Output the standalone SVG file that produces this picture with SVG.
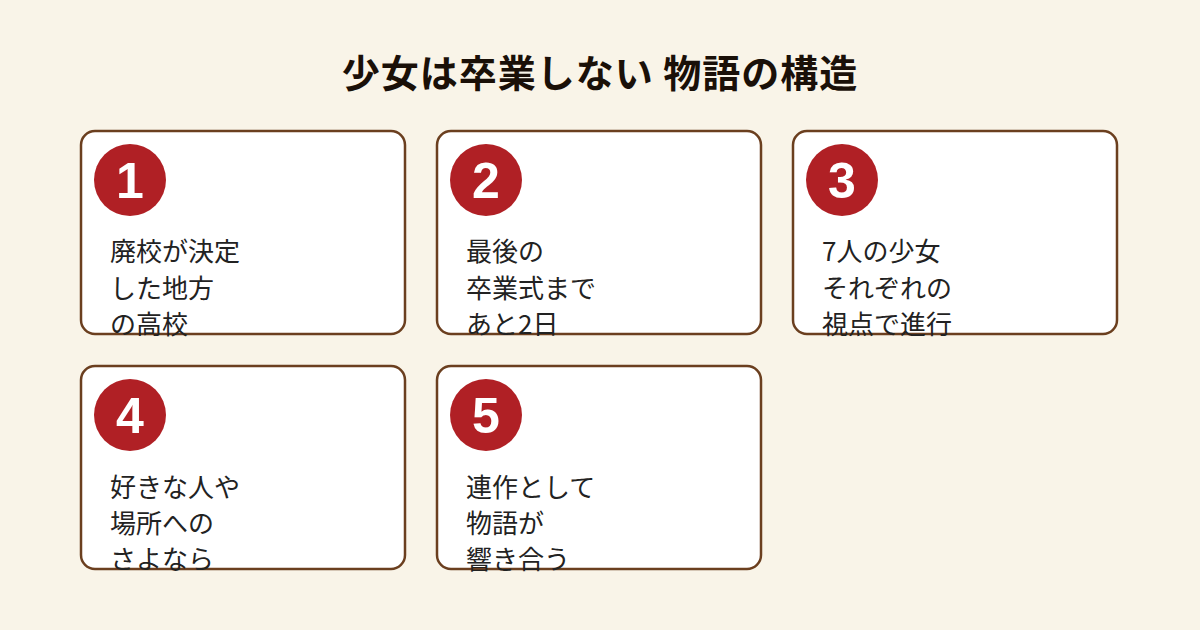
<svg xmlns="http://www.w3.org/2000/svg" width="1200" height="630" viewBox="0 0 1200 630">
<style>
.card{fill:#fff;stroke:#6b3f1f;stroke-width:2.5}
.badge{fill:#b02025}
.num{fill:#fff;font-family:"Liberation Sans",sans-serif;font-weight:bold;font-size:50px;text-anchor:middle}
.t{fill:#222;font-family:"Noto Sans CJK JP","Noto Sans",sans-serif;font-size:26px}
.title{fill:#1a1008;font-family:"Noto Sans CJK JP",sans-serif;font-weight:bold;font-size:38px;letter-spacing:1px;text-anchor:middle}
</style>
<rect width="1200" height="630" fill="#f9f4e8"/>
<text class="title" x="600" y="87">少女は卒業しない 物語の構造</text>
<g id="n1"><rect class="card" x="81" y="131" width="324" height="203" rx="14"/><circle class="badge" cx="130" cy="180" r="36"/><text class="num" x="130" y="198">1</text><text class="t"><tspan x="110" y="261">廃校が決定</tspan><tspan x="110" y="298">した地方</tspan><tspan x="110" y="334">の高校</tspan></text></g>
<g id="n2"><rect class="card" x="437" y="131" width="324" height="203" rx="14"/><circle class="badge" cx="486" cy="180" r="36"/><text class="num" x="486" y="198">2</text><text class="t"><tspan x="466" y="261">最後の</tspan><tspan x="466" y="298">卒業式まで</tspan><tspan x="466" y="334">あと2日</tspan></text></g>
<g id="n3"><rect class="card" x="793" y="131" width="324" height="203" rx="14"/><circle class="badge" cx="842" cy="180" r="36"/><text class="num" x="842" y="198">3</text><text class="t"><tspan x="822" y="261">7人の少女</tspan><tspan x="822" y="298">それぞれの</tspan><tspan x="822" y="334">視点で進行</tspan></text></g>
<g id="n4"><rect class="card" x="81" y="366" width="324" height="203" rx="14"/><circle class="badge" cx="130" cy="415" r="36"/><text class="num" x="130" y="433">4</text><text class="t"><tspan x="110" y="497">好きな人や</tspan><tspan x="110" y="533">場所への</tspan><tspan x="110" y="569">さよなら</tspan></text></g>
<g id="n5"><rect class="card" x="437" y="366" width="324" height="203" rx="14"/><circle class="badge" cx="486" cy="415" r="36"/><text class="num" x="486" y="433">5</text><text class="t"><tspan x="466" y="497">連作として</tspan><tspan x="466" y="533">物語が</tspan><tspan x="466" y="569">響き合う</tspan></text></g>
<g id="connectors"/>
</svg>
